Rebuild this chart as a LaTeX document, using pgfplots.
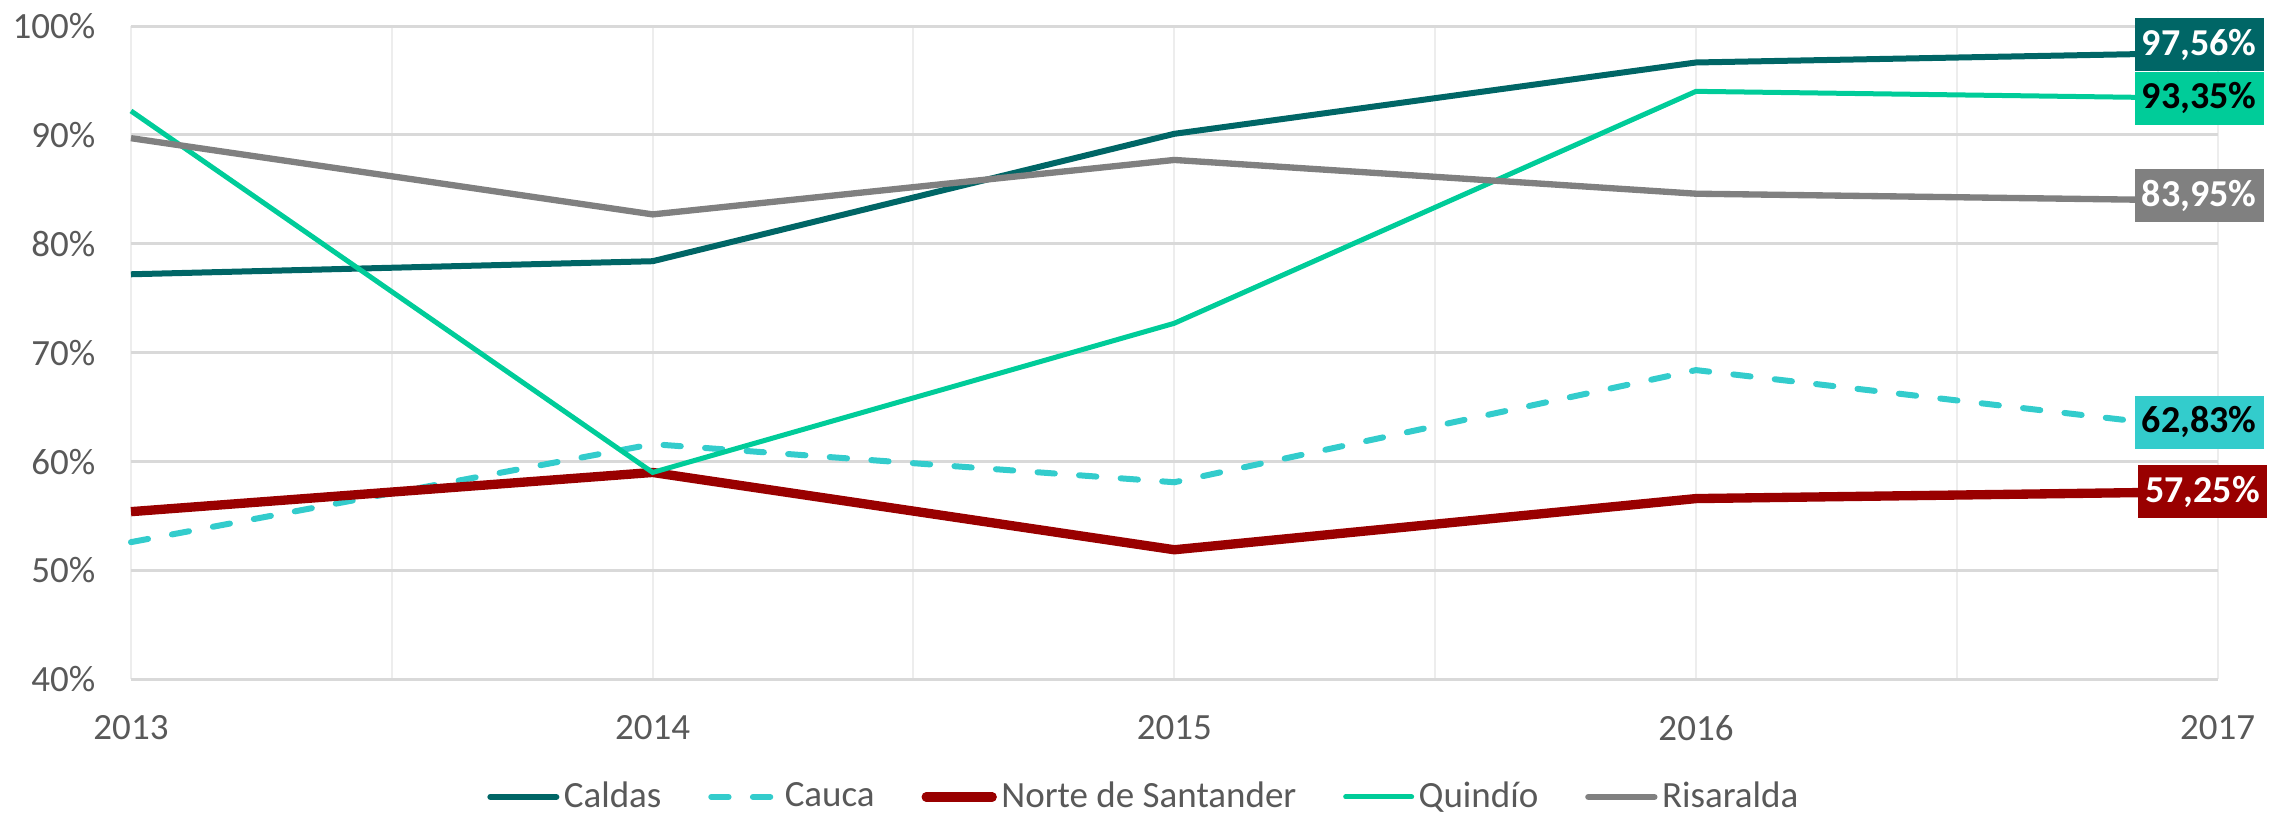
\documentclass[border=0pt]{standalone}
\usepackage{fontspec}
\setmainfont{Carlito}
\usepackage{pgfplots}
\pgfplotsset{compat=1.18}
\definecolor{caldas}{HTML}{006666}
\definecolor{cauca}{HTML}{33CCCC}
\definecolor{norte}{HTML}{990000}
\definecolor{quindio}{HTML}{00CC99}
\definecolor{risaralda}{HTML}{808080}
\definecolor{txt}{HTML}{595959}
\definecolor{gridh}{HTML}{D9D9D9}
\definecolor{gridv}{HTML}{EDEDED}
\tikzset{lab/.style={anchor=center, xshift=-5.5pt, minimum width=38.7pt, minimum height=16pt,
    inner sep=0pt, font=\fontsize{11.4}{12}\selectfont\bfseries}}

\begin{document}
\begin{tikzpicture}
\path[use as bounding box] (-39.3pt,-40.2pt) rectangle (646.2pt,203.8pt);
\begin{axis}[
  scale only axis, width=626pt, height=196pt,
  xmin=2013, xmax=2017, ymin=40, ymax=100,
  clip=false,
  xtick={2013,2014,2015,2016,2017},
  minor xtick={2013.5,2014.5,2015.5,2016.5},
  ytick={40,50,60,70,80,90,100},
  xmajorgrids, xminorgrids, ymajorgrids,
  x grid style={color=gridv, line width=0.6pt},
  y grid style={color=gridh, line width=0.9pt},
  axis line style={draw=none},
  major tick length=0pt, minor tick length=0pt,
  /pgf/number format/assume math mode=true,
  tick label style={font=\fontsize{11.1}{12}\selectfont, text=txt},
  xticklabel style={/pgf/number format/1000 sep={}, yshift=-7.3pt},
  yticklabel={\pgfmathprintnumber{\tick}\%},
  yticklabel style={xshift=-7.2pt},
  legend columns=5,
  legend style={at={(0.486,-0.18)}, anchor=center, draw=none, fill=none,
    font=\fontsize{11.1}{12}\selectfont, text=txt, inner sep=0pt,
    nodes={inner xsep=1.35pt, inner ysep=1pt},
    /tikz/every even column/.append style={column sep=12.7pt}},
  legend image code/.code={\draw[#1, line cap=round] (0pt,0pt) -- (19.8pt,0pt);},
]
\addplot[caldas, line width=1.8pt] coordinates {(2013,77.2) (2014,78.4) (2015,90.1) (2016,96.65) (2017,97.56)}
  node[pos=1, lab, fill=caldas, text=white, yshift=2.4pt] {97,56\%};
\addlegendentry{Caldas}
\addplot[cauca, line width=1.8pt, dash pattern=on 5.2pt off 7.3pt, line cap=round] coordinates {(2013,52.6) (2014,61.6) (2015,58.1) (2016,68.4) (2017,62.83)}
  node[pos=1, lab, fill=cauca, text=black, solid, yshift=2.5pt] {62,83\%};
\addlegendentry{Cauca}
\addplot[norte, line width=2.8pt] coordinates {(2013,55.4) (2014,59.0) (2015,51.9) (2016,56.6) (2017,57.25)}
  node[pos=1, lab, fill=norte, text=white, xshift=1pt] {57,25\%};
\addlegendentry{Norte de Santander}
\addplot[quindio, line width=1.5pt] coordinates {(2013,92.2) (2014,59.0) (2015,72.7) (2016,94.0) (2017,93.35)}
  node[pos=1, lab, fill=quindio, text=black] {93,35\%};
\addlegendentry{Quindío}
\addplot[risaralda, line width=1.9pt] coordinates {(2013,89.7) (2014,82.7) (2015,87.7) (2016,84.6) (2017,83.95)}
  node[pos=1, lab, fill=risaralda, text=white, yshift=1.5pt] {83,95\%};
\addlegendentry{Risaralda}
\end{axis}
\end{tikzpicture}
\end{document}
